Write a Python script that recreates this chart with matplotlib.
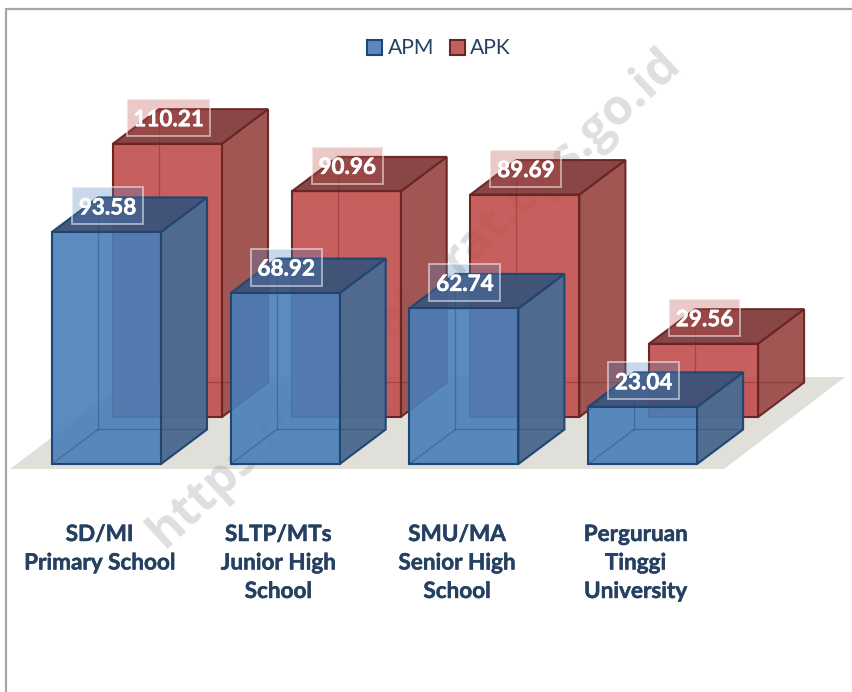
import matplotlib
matplotlib.use("Agg")
import matplotlib.pyplot as plt
import matplotlib.patheffects as pe
from matplotlib.patches import Polygon, Rectangle

categories = ["SD/MI\nPrimary School", "SLTP/MTs\nJunior High\nSchool",
              "SMU/MA\nSenior High\nSchool", "Perguruan\nTinggi\nUniversity"]
apm = [93.58, 68.92, 62.74, 23.04]
apk = [110.21, 90.96, 89.69, 29.56]
series_names = ["APM", "APK"]

W, H = 853, 692
CAT_PX = 178.7        # px per category
VAL_PX = 2.48         # px per value unit
X0_PX, Y0_PX = 106.5, 464  # px position of category 0 / value 0
plt.rcParams["font.family"] = ["Lato", "DejaVu Sans"]

fig = plt.figure(figsize=(W / 100, H / 100), dpi=100)
ax = fig.add_axes([0, 0, 1, 1])
ax.set_xlim(-X0_PX / CAT_PX, (W - X0_PX) / CAT_PX)
ax.set_ylim((Y0_PX - H) / VAL_PX, Y0_PX / VAL_PX)
ax.axis("off")


def px(dx=0, dy=0):
    """pixel offsets -> data offsets (dy positive = up)"""
    return dx / CAT_PX, dy / VAL_PX


def pos(a, b):
    """absolute picture pixel -> data"""
    return (a - X0_PX) / CAT_PX, (Y0_PX - b) / VAL_PX


BOX_W = 109 / CAT_PX
DX, DY = px(46, 34.5)
TEXT = "#254061"
BOLD = [pe.withStroke(linewidth=0.35, foreground=TEXT)]

# frame
ax.plot(*zip(pos(6, H), pos(6, 9), pos(W, 9)), color="#a6a6a6", lw=1.6, zorder=1,
        solid_joinstyle="miter")

# floor
fl = [(10, 469), (724, 469), (845, 377), (132, 377)]
ax.add_patch(Polygon([pos(a, b) for a, b in fl], fc="#e1dfd9", ec="none", zorder=1.5))


def box(cx, base, val, front, side, top, edge, z):
    top_y = base + val
    l, r = cx - BOX_W / 2, cx + BOX_W / 2
    lw = 1.5
    sideP = Polygon([(r, base), (r + DX, base + DY), (r + DX, top_y + DY), (r, top_y)],
                    fc=side, ec=edge, lw=lw, alpha=.97, zorder=z + .02)
    topP = Polygon([(l, top_y), (r, top_y), (r + DX, top_y + DY), (l + DX, top_y + DY)],
                   fc=top, ec=edge, lw=lw, alpha=.97, zorder=z + .03)
    frontP = Polygon([(l, base), (r, base), (r, top_y), (l, top_y)],
                     fc=front, ec="none", alpha=.9, zorder=z + .04)
    frontE = Polygon([(l, base), (r, base), (r, top_y), (l, top_y)],
                     fc="none", ec=edge, lw=lw, zorder=z + .06)
    for p in (sideP, topP, frontP, frontE):
        ax.add_patch(p)
    # back edges seen through the faces
    ax.plot([l + DX, l + DX], [base + DY, top_y + DY], color=edge, lw=.9, alpha=.4, zorder=z + .05)
    ax.plot([l, l + DX, r + DX], [base, base + DY, base + DY], color=edge, lw=.9, alpha=.4, zorder=z + .05)


RED_DX, RED_DY = px(61, 47)
for i, v in enumerate(apk):
    box(i + RED_DX, RED_DY, v, "#c04e4b", "#9e504e", "#854040", "#6a2624", 2)
for i, v in enumerate(apm):
    box(i, 0, v, "#497eb9", "#4c6a90", "#3e5379", "#1f4570", 3)


def label(x, y, v, tint):
    s = f"{v:.2f}"
    w = (83 if len(s) > 5 else 71) / CAT_PX
    h = 37 / VAL_PX
    yc = y + 26 / VAL_PX
    ax.add_patch(Rectangle((x - w / 2 + 1 / CAT_PX, yc - h / 2), w, h, fc=tint + (.3,),
                           ec=(1, 1, 1, .55), lw=1.3, zorder=6))
    ax.text(x + 1 / CAT_PX, yc, s, ha="center", va="center_baseline", color="white",
            fontsize=16.2, fontweight="bold", zorder=6.1,
            path_effects=[pe.withStroke(linewidth=0.35, foreground="white")])


for i, v in enumerate(apk):
    label(i + RED_DX, RED_DY + v, v, (0.75, 0.31, 0.30))
for i, v in enumerate(apm):
    label(i, v, v, (0.31, 0.51, 0.74))

# category labels
for i, c in enumerate(categories):
    ax.text(i - 7 / CAT_PX, pos(0, 524)[1], c, ha="center", va="top", color=TEXT,
            fontsize=16.2, fontweight="bold", linespacing=1.44, zorder=5, path_effects=BOLD)

# legend
for (sx, nm, fc, ec, tx) in [(367, series_names[0], "#5b88be", "#1f4570", 388),
                             (450, series_names[1], "#c6605d", "#6a2624", 470)]:
    ax.add_patch(Rectangle(pos(sx, 55), 15 / CAT_PX, 15 / VAL_PX, fc=fc, ec=ec, lw=1.5, zorder=5))
    ax.text(*pos(tx, 48), nm, ha="left", va="center", color=TEXT, fontsize=15.2, zorder=5)

# watermark (sits behind the translucent boxes)
ax.text(*pos(414, 298), "https://papuabarat.bps.go.id",
        rotation=43, rotation_mode="anchor", ha="center", va="center", color="#808080", alpha=.25,
        fontsize=35.5, fontweight="bold", family=["Open Sans", "DejaVu Sans"], zorder=1.8)

fig.savefig("out.png", dpi=100)
